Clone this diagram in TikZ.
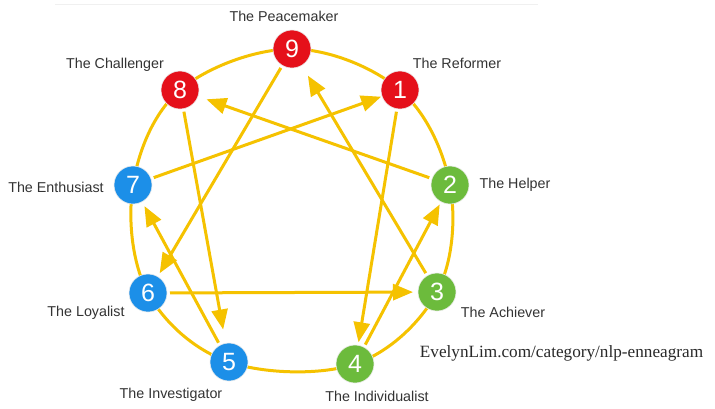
\documentclass[tikz,border=0pt]{standalone}
\usepackage{fontspec}
\setmainfont{Liberation Sans}
\newfontfamily\urlfont{Liberation Serif}
\usetikzlibrary{arrows.meta}
\pgfdeclarelayer{canvas}
\pgfdeclarelayer{background}
\pgfsetlayers{canvas,background,main}
\definecolor{gold}{HTML}{F5C200}
\definecolor{ered}{HTML}{E5101A}
\definecolor{eblue}{HTML}{1C8FE8}
\definecolor{egreen}{HTML}{6CBB3C}
\definecolor{labelgray}{HTML}{333333}
\tikzset{
  pt/.style={circle, minimum size=38pt, inner sep=0pt, outer sep=0pt, draw=white!85!gray, line width=0.6pt, text=white, font=\fontsize{25}{25}\selectfont},
  rpt/.style={pt, fill=ered},
  bpt/.style={pt, fill=eblue},
  gpt/.style={pt, fill=egreen},
  lbl/.style={text=labelgray, font=\fontsize{14.3}{16}\selectfont, inner sep=0pt},
  loop/.style={draw=gold, line width=3pt},
  arr/.style={draw=gold, line width=3pt, -{Triangle[length=20pt,width=16pt]}, shorten <=3pt}
}
\begin{document}
\begin{tikzpicture}[x=1pt,y=-1pt]
\useasboundingbox (0,0) rectangle (715,408);
\begin{pgfonlayer}{canvas}
\fill[white] (0,0) rectangle (715,408);
\draw[gray!12, line width=1pt] (55,4) -- (538,4);
\end{pgfonlayer}
% nodes
\node[rpt] (n9) at (292,49) {9};
\node[rpt] (n1) at (400,90) {1};
\node[gpt] (n2) at (450,185) {2};
\node[gpt] (n3) at (437,292) {3};
\node[gpt] (n4) at (355,364) {4};
\node[bpt] (n5) at (229,362) {5};
\node[bpt] (n6) at (148,293) {6};
\node[bpt] (n7) at (133,185) {7};
\node[rpt] (n8) at (180,90) {8};
% lines behind nodes
\begin{pgfonlayer}{background}
\draw[loop] plot[smooth cycle, tension=0.6] coordinates {(292,49) (400,90) (450,185) (437,292) (355,364) (229,362) (148,293) (133,185) (180,90)};
\draw[arr, shorten >=9pt] (n2) -- (n8);
\draw[arr, shorten >=1pt] (n7) -- (n1);
\draw[arr, shorten >=12pt] (n3) -- (n9);
\draw[arr, shorten >=5pt] (n5) -- (n7);
\draw[arr, shorten >=4pt] (n9) -- (n6);
\draw[arr, shorten >=14pt] (n8) -- (n5);
\draw[arr, shorten >=5pt] (n6) -- (n3);
\draw[arr, shorten >=3pt] (n1) -- (n4);
\draw[arr, shorten >=3pt] (n4) -- (n2);
\end{pgfonlayer}
% labels
\node[lbl] (l9) at (284,16) {The Peacemaker};
\node[lbl] (l1) at (457,63) {The Reformer};
\node[lbl] (l2) at (515,185) {The Helper};
\node[lbl] (l3) at (503,312) {The Achiever};
\node[lbl] (l4) at (377,396) {The Individualist};
\node[lbl] (l5) at (171,395) {The Investigator};
\node[lbl] (l6) at (86,313) {The Loyalist};
\node[lbl] (l7) at (56,187) {The Enthusiast};
\node[lbl] (l8) at (115,65) {The Challenger};
\node[text=labelgray!80!black, font=\urlfont\fontsize{17.2}{19}\selectfont, inner sep=0pt] (url) at (561.5,353) {EvelynLim.com/category/nlp-enneagram};
\end{tikzpicture}
\end{document}
